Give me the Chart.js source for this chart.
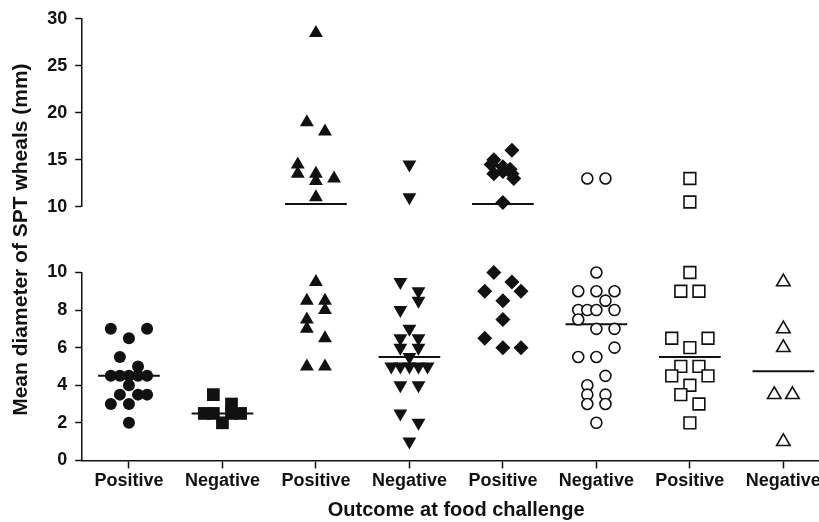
<!DOCTYPE html>
<html>
<head>
<meta charset="utf-8">
<script src="https://cdn.jsdelivr.net/npm/chart.js@4/dist/chart.umd.min.js"></script>
<style>
  html, body { margin: 0; padding: 0; background: #fff; overflow: hidden; }
  #wrap { width: 840px; height: 522px; }
</style>
</head>
<body>
<div id="wrap"><canvas id="my_chart" width="840" height="522"></canvas></div>
<script>
(function() {
  'use strict';

  // categories along the x axis
  var categories = ['Positive', 'Negative', 'Positive', 'Negative', 'Positive', 'Negative', 'Positive', 'Negative'];

  // values (mm) per group, with the sideways jitter of each symbol (in steps)
  var g1Values = [7, 7, 6.5, 5.5, 5, 4.5, 4.5, 4.5, 4.5, 4.5, 4, 3.5, 3.5, 3.5, 3, 3, 2];
  var g1Jitter = [-2, 2, 0, -1, 1, -2, -1, 0, 1, 2, 0, -1, 1, 2, -2, 0, 0];

  var g2Values = [3.5, 3, 2.5, 2.5, 2.5, 2.5, 2];
  var g2Jitter = [-1, 1, -2, -1, 1, 2, 0];

  var g3Values = [28.5, 19, 18, 14.5, 13.5, 13.5, 12.75, 13, 11, 9.5, 8.5, 8.5, 8, 7.5, 7, 6.5, 5, 5];
  var g3Jitter = [0, -1, 1, -2, -2, 0, 0, 2, 0, 0, -1, 1, 1, -1, -1, 1, -1, 1];

  var g4Values = [14.5, 11, 9.5, 9, 8.5, 8, 7, 6.5, 6.5, 6, 6, 5.5, 5, 5, 5, 5, 5, 4, 4, 2.5, 2, 1];
  var g4Jitter = [0, 0, -1, 1, 1, -1, 0, -1, 1, -1, 1, 0, -2, -1, 0, 1, 2, -1, 1, -1, 1, 0];

  var g5Values = [16, 15, 14.5, 14.25, 14, 13.75, 13.5, 13.5, 13, 10.45, 10, 9.5, 9, 9, 8.5, 7.5, 6.5, 6, 6];
  var g5Jitter = [1, -1, -1.3, 0, 0.8, 0, -1, 1, 1.2, 0, -1, 1, -2, 2, 0, 0, -2, 0, 2];

  var g6Values = [13, 13, 10, 9, 9, 9, 8.5, 8, 8, 8, 8, 7.5, 7, 7, 6, 5.5, 5.5, 4.5, 4, 3.5, 3.5, 3, 3, 2];
  var g6Jitter = [-1, 1, 0, -2, 0, 2, 1, -2, -1, 0, 2, -2, 0, 2, 2, -2, 0, 1, -1, -1, 1, -1, 1, 0];

  var g7Values = [13, 10.5, 10, 9, 9, 6.5, 6.5, 6, 5, 5, 4.5, 4.5, 4, 3.5, 3, 2];
  var g7Jitter = [0, 0, 0, -1, 1, -2, 2, 0, -1, 1, -2, 2, 0, -1, 1, 0];

  var g8Values = [9.5, 7, 6, 3.5, 3.5, 1];
  var g8Jitter = [0, 0, 0, -1, 1, 0];

  // median line of each group
  var medians = [4.5, 2.5, 10.3, 5.5, 10.3, 7.25, 5.5, 4.75];

  // axis ticks
  var lowerTicks = [0, 2, 4, 6, 8, 10];
  var upperTicks = [10, 15, 20, 25, 30];

  var BREAK = 10;        // axis break
  var STEP = 0.097;      // one jitter step, in category units
  var HALF_LINE = 0.33;  // half width of a median line
  var INK = '#111';

  var groups = [
    [g1Values, g1Jitter], [g2Values, g2Jitter], [g3Values, g3Jitter], [g4Values, g4Jitter],
    [g5Values, g5Jitter], [g6Values, g6Jitter], [g7Values, g7Jitter], [g8Values, g8Jitter]
  ];

  // symbol of each group
  var markers = [
    {style: 'circle',   radius: 6,   rot: 0,   fill: true},
    {style: 'rect',     radius: 9,   rot: 0,   fill: true},
    {style: 'triangle', radius: 8,   rot: 0,   fill: true},
    {style: 'triangle', radius: 8,   rot: 180, fill: true},
    {style: 'rectRot',  radius: 7.5, rot: 0,   fill: true},
    {style: 'circle',   radius: 5.5, rot: 0,   fill: false},
    {style: 'rect',     radius: 8.3, rot: 0,   fill: false},
    {style: 'triangle', radius: 7.8, rot: 0,   fill: false}
  ];

  function points(i, upper) {
    var values = groups[i][0], jitter = groups[i][1];
    var pts = [];
    values.forEach(function(v, k) {
      if ((v > BREAK) === upper) {
        pts.push({x: i + 1 + jitter[k] * STEP, y: v});
      }
    });
    return pts;
  }

  var datasets = [];
  markers.forEach(function(m, i) {
    [false, true].forEach(function(upper) {
      datasets.push({
        data: points(i, upper),
        yAxisID: upper ? 'y2' : 'y',
        pointStyle: m.style,
        pointRadius: m.radius,
        pointRotation: m.rot,
        pointBackgroundColor: m.fill ? INK : '#fff',
        pointBorderColor: INK,
        pointBorderWidth: m.fill ? 0 : 1.6,
        showLine: false,
        clip: false
      });
    });
  });

  medians.forEach(function(md, i) {
    datasets.push({
      data: [{x: i + 1 - HALF_LINE, y: md}, {x: i + 1 + HALF_LINE, y: md}],
      yAxisID: md > BREAK ? 'y2' : 'y',
      showLine: true,
      pointRadius: 0,
      borderColor: INK,
      borderWidth: 2,
      clip: false
    });
  });

  var tickFont = {family: '"Liberation Sans", Arial, sans-serif', size: 18, weight: 'bold'};
  var titleFont = {family: '"Liberation Sans", Arial, sans-serif', size: 20, weight: 'bold'};
  var yTitleFont = {family: '"Liberation Sans", Arial, sans-serif', size: 21, weight: 'bold'};

  function yAxis(min, max, ticks, weight, order) {
    return {
      type: 'linear',
      position: 'left',
      stack: 'v',
      stackWeight: weight,
      weight: order,
      min: min,
      max: max,
      afterBuildTicks: function(scale) {
        scale.ticks = ticks.map(function(t) { return {value: t}; });
      },
      ticks: {color: INK, font: tickFont, padding: 8, autoSkip: false},
      grid: {drawOnChartArea: false, drawTicks: true, tickLength: 7, tickColor: INK, tickWidth: 1.5},
      border: {display: true, color: INK, width: 1.5}
    };
  }

  var config = {
    type: 'scatter',
    data: {datasets: datasets},
    options: {
      responsive: false,
      animation: false,
      layout: {padding: {left: 9, top: 18, right: 0, bottom: 0}},
      plugins: {legend: {display: false}, tooltip: {enabled: false}},
      scales: {
        x: {
          type: 'linear',
          min: 0.5,
          max: 8.5,
          afterBuildTicks: function(scale) {
            scale.ticks = categories.map(function(c, i) { return {value: i + 1}; });
          },
          ticks: {
            color: INK, font: tickFont, padding: 2, autoSkip: false, maxRotation: 0,
            callback: function(v) { return categories[v - 1]; }
          },
          grid: {drawOnChartArea: false, drawTicks: true, tickLength: 8, tickColor: INK, tickWidth: 1.5},
          border: {display: true, color: INK, width: 1.5},
          title: {display: true, text: 'Outcome at food challenge', color: INK, font: titleFont,
                  padding: {top: 4, bottom: 0}}
        },
        y: yAxis(0, 10, lowerTicks, 10, 1),
        gap: {
          type: 'linear',
          position: 'left',
          stack: 'v',
          stackWeight: 3.5,
          weight: 2,
          min: 0,
          max: 1,
          display: true,
          ticks: {display: false},
          grid: {display: false},
          border: {display: false},
          title: {display: true, text: 'Mean diameter of SPT wheals (mm)', color: INK, font: yTitleFont,
                  padding: {top: 0, bottom: 40}}
        },
        y2: yAxis(10, 30, upperTicks, 10, 3)
      }
    }
  };

  var ctx = document.getElementById('my_chart').getContext('2d');
  new Chart(ctx, config);
})();
</script>
</body>
</html>
